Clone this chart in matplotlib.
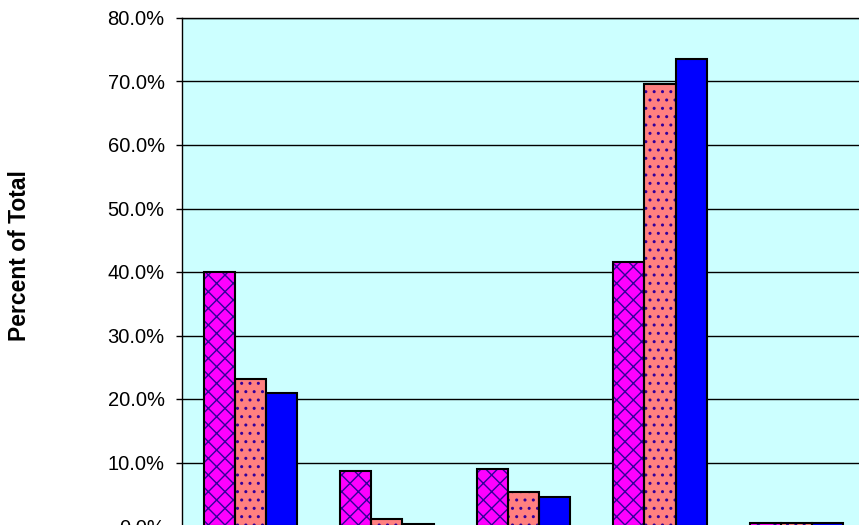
import numpy as np
import matplotlib.pyplot as plt

plt.rcParams['font.family'] = ['Liberation Sans', 'DejaVu Sans']
plt.rcParams['hatch.linewidth'] = 1.0

# five categories, three series (values in percent of total)
categories = ['A', 'B', 'C', 'D', 'E']
series_1 = [40.0, 8.7, 9.0, 41.5, 0.5]
series_2 = [23.1, 1.1, 5.4, 69.6, 0.4]
series_3 = [21.0, 0.3, 4.5, 73.5, 0.4]

fig = plt.figure(figsize=(8.59, 5.25), dpi=100)
# plot area runs off the bottom and right edge of the picture
ax = fig.add_axes([182 / 859, 1 - 526 / 525, 0.795, (526 - 18) / 525])
ax.set_facecolor('#CCFFFF')

x = np.arange(len(categories))
w = 0.228
styles = [('#FF00FF', 'xx'), ('#FF8080', '..'), ('#0000FF', None)]
for i, (vals, (col, hat)) in enumerate(zip([series_1, series_2, series_3], styles)):
    pos = x + (i - 1) * w
    # fill + hatch in navy, then a black outline on top
    ax.bar(pos, vals, w, color=col, hatch=hat, edgecolor='#330099', linewidth=0, zorder=3)
    ax.bar(pos, vals, w, fill=False, edgecolor='black', linewidth=1.5, zorder=4)

ax.set_xlim(-0.5, len(categories) - 0.5)
ax.set_ylim(0, 80)
ax.set_yticks(np.arange(0, 81, 10))
ax.set_yticklabels(['%.1f%%' % v for v in np.arange(0, 81, 10)], fontsize=14.5)
ax.set_xticks([])
ax.tick_params(axis='y', length=4.5, width=1, pad=8, direction='out')
ax.yaxis.grid(True, color='black', linewidth=1)
ax.set_axisbelow(True)
for s in ax.spines.values():
    s.set_linewidth(1)

fig.text(20 / 859, 1 - 256 / 525, 'Percent of Total', rotation=90, fontsize=16.5,
         fontweight='bold', ha='center', va='center')

fig.savefig('out.png', dpi=100)
